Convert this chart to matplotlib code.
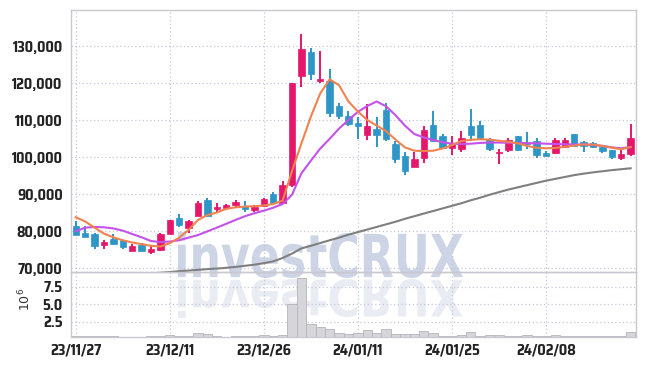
import matplotlib
matplotlib.use("Agg")
import matplotlib.pyplot as plt
import numpy as np
from matplotlib.textpath import TextPath
from matplotlib.patches import PathPatch
from matplotlib.font_manager import FontProperties
from matplotlib.transforms import Affine2D, IdentityTransform

# daily candles (KRW), one per trading day
opens = [81400, 79400, 79300, 76150, 77750, 77550, 74700, 76150, 74400, 74850,
         79300, 83500, 80750, 84150, 88400, 86050, 86150, 87050, 86750, 85650,
         86850, 90000, 87650, 92500, 122000, 128350, 120650, 120650, 113800, 111100,
         109300, 105950, 107550, 112700, 103500, 100250, 97400, 99650, 108650, 105700,
         102550, 102150, 108400, 108650, 104800, 101000, 101900, 105700, 103900, 104300,
         101000, 101000, 102800, 106200, 104050, 103700, 102800, 101900, 99800, 100800]
highs = [82800, 81350, 79400, 77550, 79300, 77700, 76400, 76750, 75950, 79500,
         83100, 84600, 82950, 88200, 88850, 87500, 87300, 88300, 88100, 87050,
         88900, 90450, 93600, 120000, 133150, 129450, 128550, 123700, 114550, 112450,
         110900, 114300, 110900, 114550, 104300, 101450, 101450, 108400, 112450, 106200,
         105700, 107050, 113000, 109700, 105200, 102150, 105200, 105800, 106800, 105050,
         101600, 105050, 105050, 106200, 104300, 104050, 103250, 101900, 101900, 108850]
lows = [78800, 78400, 75200, 75050, 76350, 75200, 74600, 74600, 73800, 74600,
        79200, 81150, 79550, 84050, 84050, 84800, 85800, 86150, 85200, 85250,
        86750, 87550, 87550, 92000, 119050, 120800, 119900, 110900, 110200, 108400,
        104850, 104600, 102650, 104300, 98300, 95150, 97300, 98300, 104050, 102450,
        100550, 101450, 104400, 105100, 101700, 98000, 101450, 101750, 102100, 99650,
        100250, 100800, 102400, 102850, 101450, 102450, 101000, 99450, 99200, 100250]
closes = [78900, 78450, 75950, 76950, 76500, 75750, 76050, 74700, 75050, 79300,
          83000, 81650, 82700, 87500, 84150, 86500, 87050, 87850, 85850, 86600,
          88750, 87650, 92450, 120000, 129200, 122400, 121100, 112000, 111200, 108900,
          108400, 108400, 105950, 104850, 99550, 96300, 99400, 107300, 104450, 102550,
          103450, 105050, 105850, 105200, 102250, 101250, 104600, 101900, 103500, 100550,
          100400, 104600, 104600, 102950, 102850, 102650, 101600, 100100, 100800, 105050]

# moving averages as drawn
ma_short = [83700, 82600, 80900, 79300, 78300, 77500, 76900, 76450, 76000, 75800,
            76700, 78200, 80300, 83000, 84300, 85000, 86000, 86400, 86600, 86700,
            86900, 87300, 88200, 96200, 103700, 110900, 117200, 121000, 119400, 115000,
            112300, 110000, 108500, 107000, 104700, 102600, 101700, 101600, 101700, 102300,
            103200, 104300, 104650, 104800, 104700, 104400, 104100, 103700, 103000, 102500,
            102350, 102450, 102750, 103100, 103400, 103350, 103000, 102500, 102100, 102700]
ma_mid = [79900, 80900, 81100, 81000, 80700, 80100, 79200, 78300, 77300, 77000,
          77150, 77500, 78200, 78900, 79900, 80900, 81950, 83000, 84000, 84800,
          85500, 86300, 87300, 89800, 95600, 99000, 102300, 104900, 107700, 110000,
          112200, 113800, 115000, 113700, 111300, 108500, 106200, 105300, 104600, 104000,
          103600, 103500, 103600, 103800, 103900, 103900, 103850, 103800, 103750, 103700,
          103600, 103500, 103450, 103400, 103350, 103250, 103000, 102600, 102350, 102700]
ma_long = [67600, 67700, 67800, 67900, 68000, 68100, 68250, 68400, 68550, 68700,
           68900, 69150, 69300, 69500, 69700, 69850, 70050, 70300, 70600, 70900,
           71300, 71800, 72700, 73900, 75300, 76000, 76750, 77500, 78200, 79000,
           79700, 80400, 81100, 81800, 82500, 83300, 84000, 84700, 85400, 86100,
           86800, 87500, 88300, 89000, 89800, 90500, 91200, 91800, 92400, 93000,
           93600, 94100, 94600, 95100, 95500, 95850, 96150, 96450, 96700, 96950]

# volume, millions of shares
vol_m = [0.42, 0.42, 0.45, 0.42, 0.42, 0.30, 0.30, 0.30, 0.42, 0.50,
         0.59, 0.42, 0.45, 0.88, 0.73, 0.45, 0.32, 0.42, 0.42, 0.45,
         0.59, 0.45, 0.59, 5.00, 8.75, 2.17, 1.75, 1.40, 0.83, 0.73,
         0.83, 1.26, 0.83, 1.40, 0.67, 0.67, 0.72, 1.12, 0.83, 0.49,
         0.49, 0.58, 0.98, 0.49, 0.53, 0.53, 0.49, 0.40, 0.53, 0.40,
         0.40, 0.53, 0.40, 0.40, 0.40, 0.40, 0.40, 0.40, 0.40, 0.98]

tick_idx = [0, 10, 20, 30, 40, 50]
tick_labels = ['23/11/27', '23/12/11', '23/12/26', '24/01/11', '24/01/25', '24/02/08']
price_ticks = [70000, 80000, 90000, 100000, 110000, 120000, 130000]
vol_ticks = [2.5, 5.0, 7.5]

UP = '#e5176b'
DOWN = '#2e95c7'
GRID = '#c4c7da'
SPINE = '#c8c8ce'
lab_font = dict(family=['Saira SemiCondensed', 'DejaVu Sans'], weight='bold', size=10.5)

W, H = 645, 366
fig = plt.figure(figsize=(W / 100, H / 100), dpi=100)
ax = fig.add_axes([71 / W, 1 - 272 / H, 565 / W, 262 / H])
axv = fig.add_axes([71 / W, 1 - 337 / H, 565 / W, 65 / H], sharex=ax)
for a in (ax, axv):
    a.set_facecolor('none')

# watermark with its mirror image
fp = FontProperties(family='DejaVu Sans', weight='bold')
tp = TextPath((0, 0), 'investCRUX', size=100, prop=fp)
ext = tp.get_extents()
sx, sy = 285 / ext.width, 46 / ext.height
tr = Affine2D().translate(-ext.x0, -ext.y0).scale(sx, sy).translate(178, H - 278)
fig.patches.append(PathPatch(tr.transform_path(tp), transform=IdentityTransform(),
                             facecolor='#cdd4e6', edgecolor='none', zorder=-1))
tr2 = Affine2D().translate(-ext.x0, -ext.y0).scale(sx, -sy * 0.85).translate(178, H - 279)
fig.patches.append(PathPatch(tr2.transform_path(tp), transform=IdentityTransform(),
                             facecolor='#eaecf3', edgecolor='none', zorder=-1))

x = np.arange(len(closes))
o = np.array(opens); c = np.array(closes)
cols = [UP if cc >= oo else DOWN for oo, cc in zip(opens, closes)]
ax.vlines(x, lows, highs, colors=cols, lw=1.4, zorder=2)
ax.bar(x, np.maximum(np.abs(c - o), 250), bottom=np.minimum(o, c), width=0.68,
       color=cols, edgecolor=cols, lw=0.5, zorder=3)

ax.plot(x, ma_long, color='#7f7f7f', lw=1.5, zorder=4)
ax.plot(x, ma_mid, color='#c452ea', lw=1.5, zorder=4)
ax.plot(x, ma_short, color='#f0824f', lw=1.5, zorder=5)

ax.set_xlim(-0.5, 59.57)
ax.set_ylim(68920, 139730)
ax.set_yticks(price_ticks)
ax.set_yticklabels([f'{v:,}' for v in price_ticks], **lab_font, color='#222222')
ax.set_xticks(tick_idx)
ax.tick_params(axis='x', labelbottom=False, length=0)
ax.tick_params(axis='y', length=0, pad=6)
ax.grid(True, color=GRID, ls=(0, (1, 2)), lw=0.9)

axv.bar(x, vol_m, width=1.0, color='#d5d5da', edgecolor='#b4b4bc', lw=0.6, zorder=2)
axv.set_ylim(0.3, 9.64)
axv.set_yticks(vol_ticks)
axv.set_yticklabels([f'{v:.1f}' for v in vol_ticks], **lab_font, color='#222222')
axv.set_xticks(tick_idx)
axv.set_xticklabels(tick_labels, **lab_font, color='#222222')
axv.tick_params(axis='both', length=0)
axv.tick_params(axis='y', pad=6)
axv.tick_params(axis='x', pad=5)
axv.grid(True, color=GRID, ls=(0, (1, 2)), lw=0.9)
axv.set_ylabel('$10^6$', fontsize=9, color='#333333')
axv.yaxis.set_label_coords(-0.067, 0.57)

for a in (ax, axv):
    for s in a.spines.values():
        s.set_color(SPINE)
        s.set_linewidth(1.0)

fig.savefig('out.png', dpi=100)
